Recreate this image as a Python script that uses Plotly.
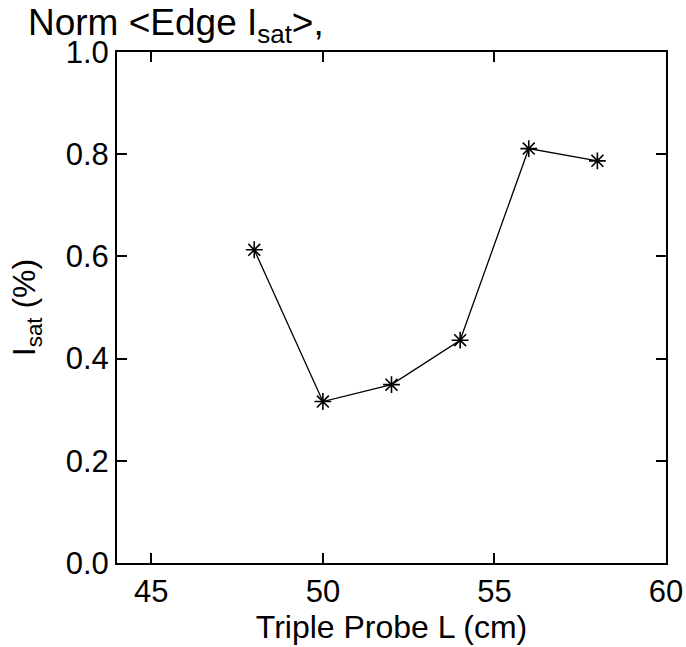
import plotly.graph_objects as go

# Probe positions (cm) and normalised edge saturation current
probe_l = [48, 50, 52, 54, 56, 58]
isat_norm = [0.613, 0.316, 0.349, 0.436, 0.811, 0.787]

x_ticks = [45, 50, 55, 60]
y_ticks = [0.0, 0.2, 0.4, 0.6, 0.8, 1.0]

FONT = "Liberation Sans, Arial, Helvetica, sans-serif"
TICK_SIZE = 31
LABEL_SIZE = 32

fig = go.Figure(
    go.Scatter(
        x=probe_l,
        y=isat_norm,
        mode="lines+markers",
        line=dict(color="black", width=1.3),
        marker=dict(symbol="asterisk-open", size=14, color="black",
                    line=dict(color="black", width=1.6)),
        showlegend=False,
    )
)

axis_common = dict(
    showline=True, linecolor="black", linewidth=2, mirror="ticks",
    ticks="inside", ticklen=10, tickwidth=2, tickcolor="black",
    showgrid=False, zeroline=False, automargin=False,
    tickfont=dict(family=FONT, size=TICK_SIZE, color="black"),
)

fig.update_xaxes(
    range=[44, 60], tickvals=x_ticks, ticktext=[str(v) for v in x_ticks],
    title=dict(text="Triple Probe L (cm)", font=dict(family=FONT, size=LABEL_SIZE, color="black"),
               standoff=2),
    **axis_common,
)
fig.update_yaxes(
    range=[0, 1.0], tickvals=y_ticks, ticktext=[f"{v:.1f}" for v in y_ticks],
    title=dict(text="I<sub>sat</sub> (%)", font=dict(family=FONT, size=LABEL_SIZE, color="black"),
               standoff=20),
    **axis_common,
)

fig.update_layout(
    width=686, height=647,
    margin=dict(l=117, r=20, t=52, b=84),
    paper_bgcolor="white", plot_bgcolor="white",
    title=dict(
        text="Norm &lt;Edge I<sub>sat</sub>&gt;,",
        font=dict(family=FONT, size=37, color="black"),
        x=28 / 686, xanchor="left", xref="container",
        y=1 - 22 / 647, yanchor="middle", yref="container",
    ),
)

fig.write_html("out.html")
